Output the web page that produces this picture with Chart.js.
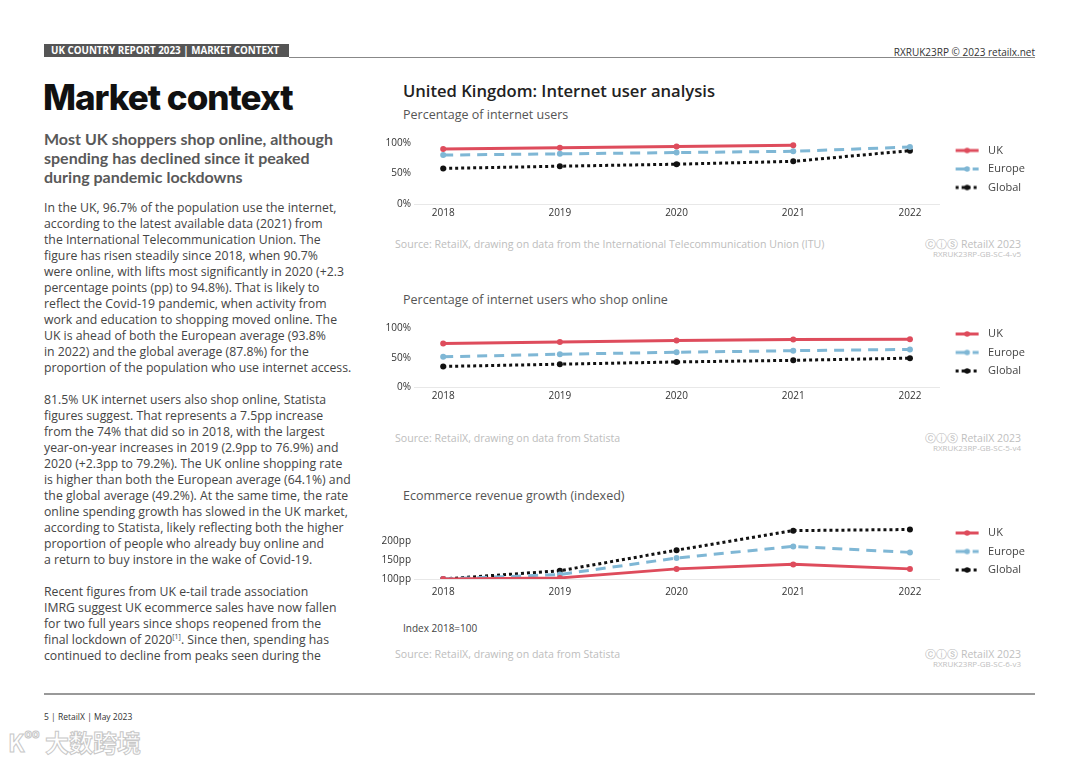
<!DOCTYPE html>
<html>
<head>
<meta charset="utf-8">
<script src="https://cdn.jsdelivr.net/npm/chart.js@4.4.0/dist/chart.umd.min.js"></script>
<style>
  body { margin: 0; width: 1080px; height: 763px; background: #fff; position: relative; overflow: hidden; font-family: "Open Sans", sans-serif; }
  .abs { position: absolute; white-space: nowrap; }
  .hdr { left: 44px; top: 44px; width: 245px; height: 13px; background: #555; color: #fff; font: 700 9.8px "Open Sans"; line-height: 13px; text-indent: 7px; }
  .hline { left: 289px; top: 57px; width: 746px; height: 1px; background: #888; }
  .title { left: 43px; top: 76px; font: 800 35px Inter; color: #111; letter-spacing: -1px; }
  .sub { left: 44px; top: 129px; font: 700 16px Lato; color: #595959; line-height: 19px; }
  .body { left: 44px; top: 200px; font: 400 12.25px "Open Sans"; color: #444; line-height: 16px; }
  .ctitle { left: 403px; top: 79px; font: 600 16.6px "Open Sans"; color: #222; }
  .csub { left: 403px; font: 400 12.5px "Open Sans"; color: #555; }
  .src { left: 395px; font: 400 10.6px "Open Sans"; color: #bdbdbd; }
  .cr { right: 59px; font: 400 10.5px "Open Sans"; color: #c0c0c0; text-align: right; line-height: 9px; }
  .cr small { font-size: 8px; }
  .box { position: absolute; left: 380px; width: 660px; }
</style>
</head>
<body>
<div class="abs hdr">UK COUNTRY REPORT 2023 | MARKET CONTEXT</div>
<div class="abs hline"></div>
<div class="abs" style="right:45px;top:45px;font:400 10px 'Open Sans';color:#333;">RXRUK23RP © 2023 retailx.net</div>

<div class="abs title">Market context</div>
<div class="abs sub">Most UK shoppers shop online, although<br>spending has declined since it peaked<br>during pandemic lockdowns</div>
<div class="abs body">In the UK, 96.7% of the population use the internet,<br>according to the latest available data (2021) from<br>the International Telecommunication Union. The<br>figure has risen steadily since 2018, when 90.7%<br>were online, with lifts most significantly in 2020 (+2.3<br>percentage points (pp) to 94.8%). That is likely to<br>reflect the Covid-19 pandemic, when activity from<br>work and education to shopping moved online. The<br>UK is ahead of both the European average (93.8%<br>in 2022) and the global average (87.8%) for the<br>proportion of the population who use internet access.<br><br>81.5% UK internet users also shop online, Statista<br>figures suggest. That represents a 7.5pp increase<br>from the 74% that did so in 2018, with the largest<br>year-on-year increases in 2019 (2.9pp to 76.9%) and<br>2020 (+2.3pp to 79.2%). The UK online shopping rate<br>is higher than both the European average (64.1%) and<br>the global average (49.2%). At the same time, the rate<br>online spending growth has slowed in the UK market,<br>according to Statista, likely reflecting both the higher<br>proportion of people who already buy online and<br>a return to buy instore in the wake of Covid-19.<br><br>Recent figures from UK e-tail trade association<br>IMRG suggest UK ecommerce sales have now fallen<br>for two full years since shops reopened from the<br>final lockdown of 2020<sup style="font-size:7px;line-height:0">[1]</sup>. Since then, spending has<br>continued to decline from peaks seen during the</div>

<div class="abs ctitle">United Kingdom: Internet user analysis</div>
<div class="abs csub" style="top:106px">Percentage of internet users</div>
<div class="box" style="top:116px;height:108px"><canvas id="c1"></canvas></div>
<div class="abs src" style="top:237px">Source: RetailX, drawing on data from the International Telecommunication Union (ITU)</div>
<div class="abs cr" style="top:240px">ⓒⓘⓢ RetailX 2023<br><small>RXRUK23RP-GB-SC-4-v5</small></div>

<div class="abs csub" style="top:291px">Percentage of internet users who shop online</div>
<div class="box" style="top:300px;height:107px"><canvas id="c2"></canvas></div>
<div class="abs src" style="top:431px">Source: RetailX, drawing on data from Statista</div>
<div class="abs cr" style="top:434px">ⓒⓘⓢ RetailX 2023<br><small>RXRUK23RP-GB-SC-5-v4</small></div>

<div class="abs csub" style="top:487px">Ecommerce revenue growth (indexed)</div>
<div class="box" style="top:498px;height:109px"><canvas id="c3"></canvas></div>
<div class="abs" style="left:403px;top:621px;font:400 10px 'Open Sans';color:#444;">Index 2018=100</div>
<div class="abs src" style="top:647px">Source: RetailX, drawing on data from Statista</div>
<div class="abs cr" style="top:650px">ⓒⓘⓢ RetailX 2023<br><small>RXRUK23RP-GB-SC-6-v3</small></div>

<div class="abs" style="left:44px;top:693px;width:991px;height:2px;background:#999;"></div>
<div class="abs" style="left:44px;top:711px;font:400 8.5px 'Open Sans';color:#333;">5 | RetailX | May 2023</div>
<div class="abs" style="left:8px;top:724px;font:700 24px 'Noto Sans CJK SC';color:#fff;-webkit-text-stroke:1px #c8c8c8;">K<span style="font-size:12px;vertical-align:top">oo</span> 大数跨境</div>

<script>
const years = [2018, 2019, 2020, 2021, 2022];
const pctTicks = [0, 50, 100];
const ppTicks = [100, 150, 200];

// Percentage of internet users
const usersUK = [90.7, 92.5, 94.8, 96.7, null];
const usersEurope = [80.5, 82.5, 84.6, 86.7, 93.8];
const usersGlobal = [58.5, 62.2, 65.5, 70.2, 87.8];

// Percentage of internet users who shop online
const shopUK = [74, 76.9, 79.2, 81, 81.5];
const shopEurope = [51.5, 55.9, 59.2, 61.9, 64.1];
const shopGlobal = [35, 38.9, 42.7, 45.5, 49.2];

// Ecommerce revenue growth, 2018 = 100
const growthUK = [100, 103, 127, 139, 127];
const growthEurope = [100, 112, 156, 187, 171];
const growthGlobal = [100, 122, 177, 229, 232];

const RED = "#de4c5c", BLUE = "#7fb7d5", BLACK = "#111";
const styles = [
  { label: "UK", color: RED, dash: [] },
  { label: "Europe", color: BLUE, dash: [10, 7] },
  { label: "Global", color: BLACK, dash: [3, 3] }
];

// legend swatch: line with a dot, blank gap on the left
function legendIcon(s) {
  const c = document.createElement("canvas");
  c.width = 36; c.height = 8;
  const g = c.getContext("2d");
  g.strokeStyle = s.color; g.lineWidth = 3; g.setLineDash(s.dash);
  g.beginPath(); g.moveTo(9, 4); g.lineTo(32, 4); g.stroke();
  g.fillStyle = s.color; g.beginPath(); g.arc(20.5, 4, 2.8, 0, Math.PI * 2); g.fill();
  return c;
}
const icons = styles.map(legendIcon);

// the empty space above the top tick keeps the legend centred on the plot
function makeChart(id, series, yMin, yMax, ticks, fmt, xPad) {
  return new Chart(document.getElementById(id), {
    type: "line",
    data: {
      datasets: series.map((vals, i) => ({
        label: styles[i].label,
        data: years.map((y, j) => ({ x: y, y: vals[j] })),
        borderColor: styles[i].color,
        backgroundColor: styles[i].color,
        borderDash: styles[i].dash,
        borderWidth: 3,
        pointRadius: 3,
        pointBorderWidth: 0,
        pointHoverRadius: 3,
        tension: 0
      }))
    },
    options: {
      responsive: true,
      maintainAspectRatio: false,
      animation: false,
      layout: { padding: { top: 0, bottom: 2, right: 5 } },
      plugins: {
        tooltip: { enabled: false },
        legend: {
          position: "right",
          align: "center",
          fullSize: true,
          labels: {
            usePointStyle: true,
            pointStyleWidth: 36,
            generateLabels: chart => styles.map((s, i) => ({
              text: s.label, pointStyle: icons[i], fontColor: "#444",
              strokeStyle: s.color, fillStyle: s.color, lineWidth: 0, datasetIndex: i
            })),
            font: { family: "Open Sans", size: 11 },
            color: "#444",
            padding: 7.5
          }
        }
      },
      scales: {
        x: {
          type: "linear",
          min: 2017.75, max: 2022.25,
          afterBuildTicks: s => { s.ticks = years.map(v => ({ value: v })); },
          ticks: { callback: v => String(v), color: "#333", padding: xPad, font: { family: "Open Sans", size: 10 }, maxRotation: 0 },
          grid: { display: false, drawTicks: false },
          border: { display: true, color: "#e8e8e8", width: 1 }
        },
        y: {
          min: yMin, max: yMax,
          afterBuildTicks: s => { s.ticks = ticks.map(v => ({ value: v })); },
          afterFit: s => { s.width = 34; },
          ticks: { callback: fmt, color: "#333", padding: 3, font: { family: "Open Sans", size: 10 } },
          grid: { display: false, drawTicks: false },
          border: { display: false }
        }
      }
    }
  });
}

makeChart("c1", [usersUK, usersEurope, usersGlobal], 0, 130, pctTicks, v => v + "%", 3);
makeChart("c2", [shopUK, shopEurope, shopGlobal], 0, 133, pctTicks, v => v + "%", 3);
makeChart("c3", [growthUK, growthEurope, growthGlobal], 100, 292, ppTicks, v => v + "pp", 7);
</script>
</body>
</html>
